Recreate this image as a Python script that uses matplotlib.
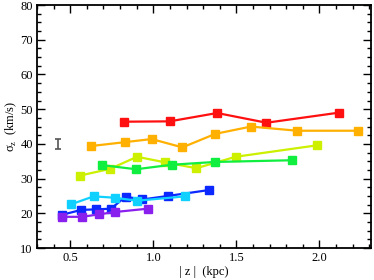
# sigma_z vs |z| for several bins, IDL-style plot
import matplotlib
matplotlib.use("Agg")
import matplotlib.pyplot as plt
from matplotlib.ticker import MultipleLocator

plt.rcParams['font.family'] = ['Liberation Serif', 'DejaVu Serif']
plt.rcParams['mathtext.fontset'] = 'custom'
plt.rcParams['mathtext.rm'] = 'Liberation Serif'

# data
red_z = [0.823, 1.098, 1.384, 1.681, 2.116]
red_s = [46.4, 46.5, 48.9, 46.1, 49.0]

orange_z = [0.627, 0.827, 0.990, 1.175, 1.373, 1.588, 1.865, 2.233]
orange_s = [39.4, 40.5, 41.4, 39.0, 42.9, 45.0, 43.8, 43.8]

yellow_z = [0.560, 0.739, 0.902, 1.070, 1.259, 1.496, 1.986]
yellow_s = [30.9, 32.8, 36.3, 34.7, 33.0, 36.3, 39.6]

green_z = [0.691, 0.896, 1.110, 1.369, 1.835]
green_s = [33.9, 32.7, 34.0, 34.8, 35.3]

cyan_z = [0.504, 0.641, 0.767, 0.902, 1.193]
cyan_s = [22.6, 24.9, 24.5, 23.65, 24.9]

blue_z = [0.452, 0.566, 0.657, 0.745, 0.833, 0.934, 1.086, 1.333]
blue_s = [19.6, 21.0, 21.15, 21.35, 24.8, 24.0, 25.0, 26.7]

purple_z = [0.452, 0.570, 0.671, 0.771, 0.968]
purple_s = [19.0, 19.0, 19.7, 20.4, 21.35]

err_z = [0.424]
err_s = [40.0]
err_size = [1.4]

series = [
    (red_z, red_s, '#ff1010'),
    (orange_z, orange_s, '#ffb000'),
    (yellow_z, yellow_s, '#ccf000'),
    (green_z, green_s, '#10ee40'),
    (blue_z, blue_s, '#0a28ff'),
    (cyan_z, cyan_s, '#10d0ff'),
    (purple_z, purple_s, '#8a20ee'),
]

fig = plt.figure(figsize=(3.74, 2.8), dpi=100)
ax = fig.add_axes([0.099, 0.114, 0.893, 0.868])

for z, s, c in series:
    ax.plot(z, s, color=c, lw=1.6, marker='s', ms=5.5, mec=c, mfc=c)

ax.errorbar(err_z, err_s, yerr=err_size, fmt='none', ecolor='#555555',
            elinewidth=1.2, capsize=2.5, capthick=1.2)

ax.set_xlim(0.3, 2.31)
ax.set_ylim(10, 80)
ax.xaxis.set_major_locator(MultipleLocator(0.5))
ax.xaxis.set_minor_locator(MultipleLocator(0.1))
ax.yaxis.set_major_locator(MultipleLocator(10))
ax.yaxis.set_minor_locator(MultipleLocator(2.5))
ax.xaxis.set_major_formatter(plt.FuncFormatter(lambda v, p: f"{v:.1f}"))

ax.tick_params(which='both', direction='in', top=True, right=True,
               labelsize=9, width=1.0, pad=3)
ax.tick_params(which='major', length=6)
ax.tick_params(which='minor', length=3)
for sp in ax.spines.values():
    sp.set_linewidth(1.3)

ax.set_xlabel('| z |  (kpc)', fontsize=9, labelpad=1)
ax.set_ylabel('σ$_{\\rm z}$  (km/s)', fontsize=9, labelpad=1)

fig.savefig('out.png', dpi=100)
